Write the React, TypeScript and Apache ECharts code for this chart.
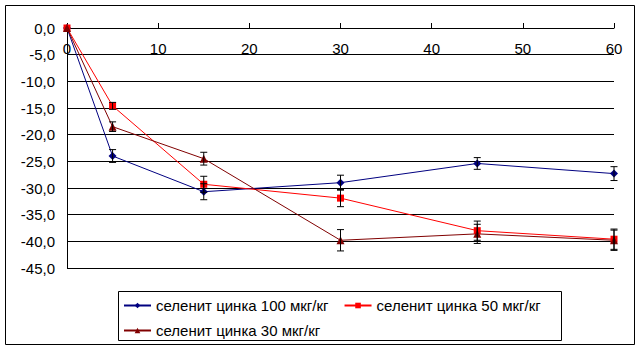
import React, { useEffect, useRef } from "react";
import * as echarts from "echarts";

const xValues = [0, 5, 15, 30, 45, 60];
const xTicks = [0, 10, 20, 30, 40, 50, 60];
const seriesNames = [
  "селенит цинка 100 мкг/кг",
  "селенит цинка 50 мкг/кг",
  "селенит цинка 30 мкг/кг",
];
const s100 = [0, -24.0, -30.7, -29.0, -25.4, -27.3];
const s50 = [0, -14.6, -29.3, -31.9, -38.0, -39.6];
const s30 = [0, -18.5, -24.5, -39.8, -38.6, -39.8];
const e100 = [0, 1.2, 1.5, 1.4, 1.1, 1.3];
const e50 = [0, 0.65, 1.5, 1.6, 1.8, 1.9];
const e30 = [0, 0.9, 1.2, 2.0, 1.8, 1.9];

const FONT = "'Liberation Sans', Arial, sans-serif";

function errData(vals: number[], errs: number[]) {
  return xValues
    .map((x, i) => [x, vals[i] - errs[i], vals[i] + errs[i]])
    .filter((_, i) => errs[i] > 0);
}

export default function App() {
  const ref = useRef<HTMLDivElement>(null);
  useEffect(() => {
    document.body.style.margin = "0";
    if (!ref.current) return;
    const chart = echarts.init(ref.current, null, { renderer: "svg" });
    const renderErr = (params: any, api: any) => {
      const x = api.value(0);
      const lo = api.coord([x, api.value(1)]);
      const hi = api.coord([x, api.value(2)]);
      const hw = 3.5;
      const st = { stroke: "#000", lineWidth: 1 };
      return {
        type: "group",
        children: [
          { type: "line", shape: { x1: lo[0], y1: lo[1], x2: hi[0], y2: hi[1] }, style: st },
          { type: "line", shape: { x1: lo[0] - hw, y1: lo[1], x2: lo[0] + hw, y2: lo[1] }, style: st },
          { type: "line", shape: { x1: hi[0] - hw, y1: hi[1], x2: hi[0] + hw, y2: hi[1] }, style: st },
        ],
      };
    };
    const colors = ["#000080", "#FF0000", "#800000"];
    const vals = [s100, s50, s30];
    const errs = [e100, e50, e30];
    const symbols = ["diamond", "rect", "triangle"];
    const sizes = [8, 7, 8];
    const lineSeries = vals.map((v, i) => ({
      name: seriesNames[i],
      type: "line",
      data: xValues.map((x, j) => [x, v[j]]),
      symbol: symbols[i],
      symbolSize: sizes[i],
      color: colors[i],
      lineStyle: { color: colors[i], width: 1 },
      itemStyle: { color: colors[i] },
      z: 3,
    }));
    const errSeries = vals.map((v, i) => ({
      type: "custom",
      renderItem: renderErr,
      data: errData(v, errs[i]),
      z: 4,
      silent: true,
    }));
    const legendCommon = {
      itemWidth: 27,
      itemHeight: 7,
      itemGap: 15,
      padding: 0,
      textStyle: { fontFamily: FONT, fontSize: 15, color: "#000", lineHeight: 14 },
    };
    chart.setOption({
      animation: false,
      backgroundColor: "#fff",
      grid: { left: 67, top: 28, right: 28, bottom: 83, containLabel: false },
      xAxis: {
        type: "value",
        position: "top",
        min: 0,
        max: 60,
        interval: 10,
        axisLine: { show: true, onZero: false, lineStyle: { color: "#000", width: 1 } },
        axisTick: { show: true, inside: false, length: 5, lineStyle: { color: "#000" } },
        axisLabel: {
          inside: true,
          margin: 13,
          fontFamily: FONT,
          fontSize: 15,
          color: "#000",
          formatter: (v: number) => (xTicks.includes(v) ? String(v) : ""),
        },
        splitLine: { show: false },
      },
      yAxis: {
        type: "value",
        min: -45,
        max: 0,
        interval: 5,
        axisLine: { show: true, lineStyle: { color: "#000", width: 1 } },
        axisTick: { show: false },
        axisLabel: {
          margin: 12,
          fontFamily: FONT,
          fontSize: 15,
          color: "#000",
          formatter: (v: number) => v.toFixed(1).replace(".", ","),
        },
        splitLine: { show: true, lineStyle: { color: "#000", width: 1 } },
      },
      legend: [
        { ...legendCommon, data: [seriesNames[0], seriesNames[1]], left: 123, top: 298 },
        { ...legendCommon, data: [seriesNames[2]], left: 123, top: 323 },
      ],
      graphic: [
        {
          type: "rect",
          shape: { x: 5.5, y: 5.5, width: 629, height: 339 },
          style: { fill: "none", stroke: "#000", lineWidth: 1 },
          silent: true,
        },
        {
          type: "rect",
          shape: { x: 118.5, y: 291.5, width: 443, height: 49 },
          style: { fill: "none", stroke: "#000", lineWidth: 1 },
          silent: true,
        },
      ],
      series: [...lineSeries, ...errSeries],
    });
    return () => chart.dispose();
  }, []);
  return <div ref={ref} style={{ width: 642, height: 351 }} />;
}
